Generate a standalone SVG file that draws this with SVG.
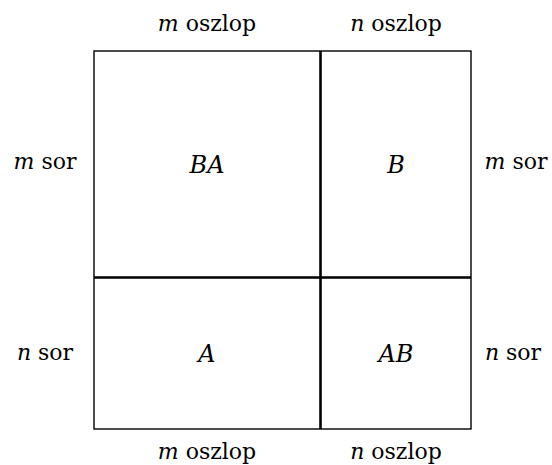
<svg xmlns="http://www.w3.org/2000/svg" width="552" height="465" viewBox="0 0 552 465">
<style>
text{font-family:'DejaVu Serif',serif;font-size:22px;fill:#000}
.c{text-anchor:middle}
.i{font-style:italic}
.m{font-size:24px}
.thin{fill:none;stroke:#000;stroke-width:1.4}
.thick{fill:none;stroke:#000;stroke-width:2.6}
</style>
<rect width="552" height="465" fill="#fff"/>
<g id="connectors">
<rect class="thin" x="94" y="51" width="377" height="378"/>
<line class="thick" x1="320.5" y1="51" x2="320.5" y2="429"/>
<line class="thick" x1="94" y1="277.5" x2="471" y2="277.5"/>
</g>
<g id="BA"><text class="c i m" x="207" y="173">BA</text></g>
<g id="B"><text class="c i m" x="396" y="173">B</text></g>
<g id="A"><text class="c i m" x="207" y="362">A</text></g>
<g id="AB"><text class="c i m" x="396" y="362">AB</text></g>
<g id="labels">
<text class="c" x="207" y="31"><tspan class="i">m</tspan> oszlop</text>
<text class="c" x="396" y="31"><tspan class="i">n</tspan> oszlop</text>
<text class="c" x="207" y="459"><tspan class="i">m</tspan> oszlop</text>
<text class="c" x="396" y="459"><tspan class="i">n</tspan> oszlop</text>
<text class="c" x="45" y="169"><tspan class="i">m</tspan> sor</text>
<text class="c" x="516" y="169"><tspan class="i">m</tspan> sor</text>
<text class="c" x="45" y="360"><tspan class="i">n</tspan> sor</text>
<text class="c" x="513" y="360"><tspan class="i">n</tspan> sor</text>
</g>
</svg>
